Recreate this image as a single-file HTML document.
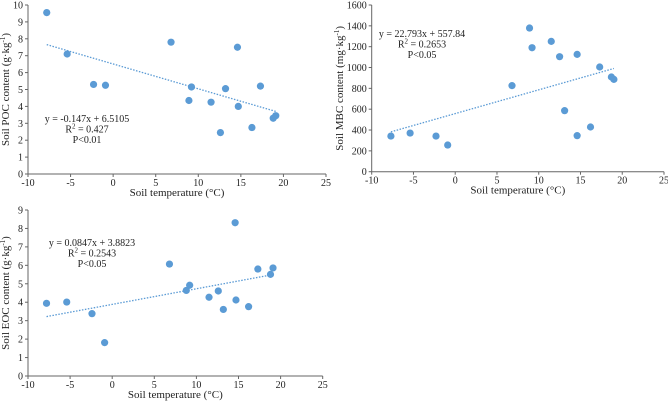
<!DOCTYPE html>
<html><head><meta charset="utf-8"><style>
body{margin:0;background:#fff;}
svg{display:block;font-family:"Liberation Serif",serif;}
text{fill:#222;}
</style></head><body>
<svg id="s" width="668" height="401" viewBox="0 0 668 401"></svg>
<script>
const xTicks=[-10,-5,0,5,10,15,20,25];
const pocTemp=[-7.8,-5.4,-2.3,-0.9,6.8,8.9,9.2,11.5,12.6,13.2,14.6,14.7,16.3,17.3,18.8,19.1];
const pocVal=[9.55,7.1,5.3,5.25,7.8,4.35,5.15,4.25,2.45,5.05,7.5,4.0,2.75,5.2,3.3,3.45];
const mbcTemp=[-7.7,-5.4,-2.3,-0.9,6.8,8.9,9.2,11.5,12.5,13.1,14.6,14.6,16.2,17.3,18.7,19.0];
const mbcVal=[342,371,342,256,826,1379,1190,1251,1104,586,1126,346,429,1005,909,886];
const eocTemp=[-7.8,-5.4,-2.4,-0.9,6.8,8.8,9.2,11.5,12.6,13.2,14.6,14.7,16.2,17.3,18.8,19.1];
const eocVal=[3.94,4.01,3.38,1.81,6.07,4.64,4.92,4.27,4.61,3.61,8.31,4.12,3.76,5.80,5.51,5.86];
const pocTicks=[0,1,2,3,4,5,6,7,8,9,10];
const mbcTicks=[0,200,400,600,800,1000,1200,1400,1600];
const eocTicks=[0,1,2,3,4,5,6,7,8,9];
const pocFit=[-0.147,6.5105], mbcFit=[22.793,557.84], eocFit=[0.0847,3.8823];
const NS="http://www.w3.org/2000/svg", svg=document.getElementById('s');
function mk(t,a,p,txt){const e=document.createElementNS(NS,t);for(const k in a)e.setAttribute(k,a[k]);if(txt!==undefined)e.textContent=txt;(p||svg).appendChild(e);return e;}
function chart(o){
  const g=mk('g',{});
  
  
  const sx=v=>o.x0+(v+10)/35*(o.x1-o.x0);
  const ymax=o.yt[o.yt.length-1];
  const sy=v=>o.y0-(v/ymax)*(o.y0-o.y1);
  mk('line',{x1:o.x0,y1:o.y0,x2:o.x1,y2:o.y0,stroke:'#666','stroke-width':1},g);
  mk('line',{x1:o.x0,y1:o.y0,x2:o.x0,y2:o.y1,stroke:'#666','stroke-width':1},g);
  xTicks.forEach(t=>{const x=sx(t);mk('line',{x1:x,y1:o.y0,x2:x,y2:o.y0+3,stroke:'#666'},g);
    const l=mk('text',{x:x,y:o.y0+12,'font-size':10,'text-anchor':'middle'},g,t);
    });
  o.yt.forEach(t=>{const y=sy(t);mk('line',{x1:o.x0-3,y1:y,x2:o.x0,y2:y,stroke:'#666'},g);
    const l=mk('text',{x:o.x0-5,y:y+3.5,'font-size':10,'text-anchor':'end'},g,t);
    });
  const xmin=Math.min(...o.tx),xmax=Math.max(...o.tx);
  const tl=mk('line',{x1:sx(xmin),y1:sy(o.fit[0]*xmin+o.fit[1]),x2:sx(xmax),y2:sy(o.fit[0]*xmax+o.fit[1]),stroke:'#5b9bd5','stroke-width':1.3,'stroke-dasharray':'1.5,1.5'},g);
  
  o.tx.forEach((t,i)=>{const c=mk('circle',{cx:sx(t),cy:sy(o.v[i]),r:3.6,fill:'#5b9bd5'},g);
    });
  o.eq.forEach((s,i)=>{const e=mk('text',{x:o.ex,y:o.ey+i*10.5,'font-size':10,'text-anchor':'middle'},g);
    
    if(i==1){e.textContent='R';mk('tspan',{'font-size':7,dy:-4},e,'2');mk('tspan',{dy:4},e,' = '+s);}else e.textContent=s;});
  const xt=mk('text',{x:(o.x0+o.x1)/2,y:o.y0+22,'font-size':11,'text-anchor':'middle'},g,'Soil temperature (°C)');
  
  const cy=(o.y0+o.y1)/2, yx=o.ytx;
  const yt=mk('text',{x:yx,y:cy,'font-size':11,'text-anchor':'middle',transform:`rotate(-90 ${yx} ${cy})`},g,o.ylab);
  mk('tspan',{'font-size':7,dy:-4},yt,'-1');mk('tspan',{dy:4},yt,')');
  
}
chart({name:'poc-chart',x0:28,x1:326,y0:174,y1:5,yt:pocTicks,tx:pocTemp,v:pocVal,fit:pocFit,
  eq:['y = -0.147x + 6.5105','0.427','P<0.01'],ex:87,ey:122,ylab:'Soil POC content (g·kg',ytx:9});
chart({name:'mbc-chart',x0:371.7,x1:664,y0:171.7,y1:5,yt:mbcTicks,tx:mbcTemp,v:mbcVal,fit:mbcFit,
  eq:['y = 22.793x + 557.84','0.2653','P<0.05'],ex:422,ey:37,ylab:'Soil MBC content (mg·kg',ytx:343});
chart({name:'eoc-chart',x0:28,x1:322.7,y0:376,y1:210,yt:eocTicks,tx:eocTemp,v:eocVal,fit:eocFit,
  eq:['y = 0.0847x + 3.8823','0.2543','P<0.05'],ex:92,ey:246,ylab:'Soil EOC content (g·kg',ytx:9});
</script>
</body></html>
